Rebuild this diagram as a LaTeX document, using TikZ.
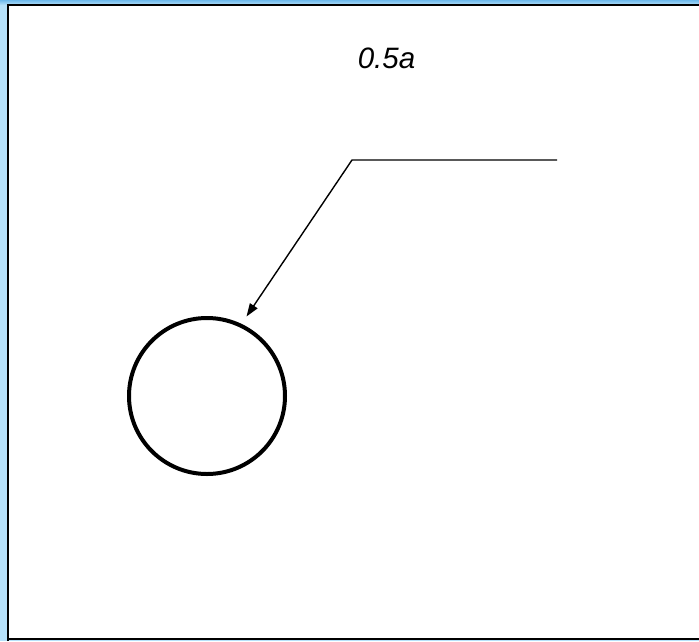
\documentclass[tikz,border=0pt]{standalone}
\usepackage{fontspec}
\setmainfont{Liberation Sans}
\usetikzlibrary{arrows.meta}
\definecolor{frameblue}{RGB}{182,225,250}
\definecolor{frametop}{RGB}{110,185,235}
\tikzset{
  leader/.style={line width=1.4pt, black},
  ring/.style={circle, draw=black, line width=4pt, minimum size=156pt, inner sep=0pt},
  label/.style={font=\fontsize{29.5}{33}\selectfont\itshape, inner sep=0pt}
}
\begin{document}
\begin{tikzpicture}[x=1pt,y=-1pt]
\useasboundingbox (0,0) rectangle (699,641);
% frame background
\fill[frameblue] (0,0) rectangle (699,641);
\shade[top color=frametop, bottom color=frameblue] (0,0) rectangle (699,5);
% inner white panel
\fill[white] (8,5) rectangle (699,638.5);
\draw[line width=2pt] (8,641) -- (8,5) -- (699,5);
\draw[line width=2pt] (8,638.5) -- (699,638.5);
% label
\node[label] (lbl) at (386.5,58.5) {0.5a};
% circle
\node[ring] (c) at (207,396) {};
% leader
\coordinate (end) at (557,160);
\coordinate (knee) at (352,160);
\coordinate (tip) at (246.5,316.5);
\draw[leader, -{Triangle[length=13pt,width=9pt]}] (end) -- (knee) -- (tip);
\end{tikzpicture}
\end{document}
